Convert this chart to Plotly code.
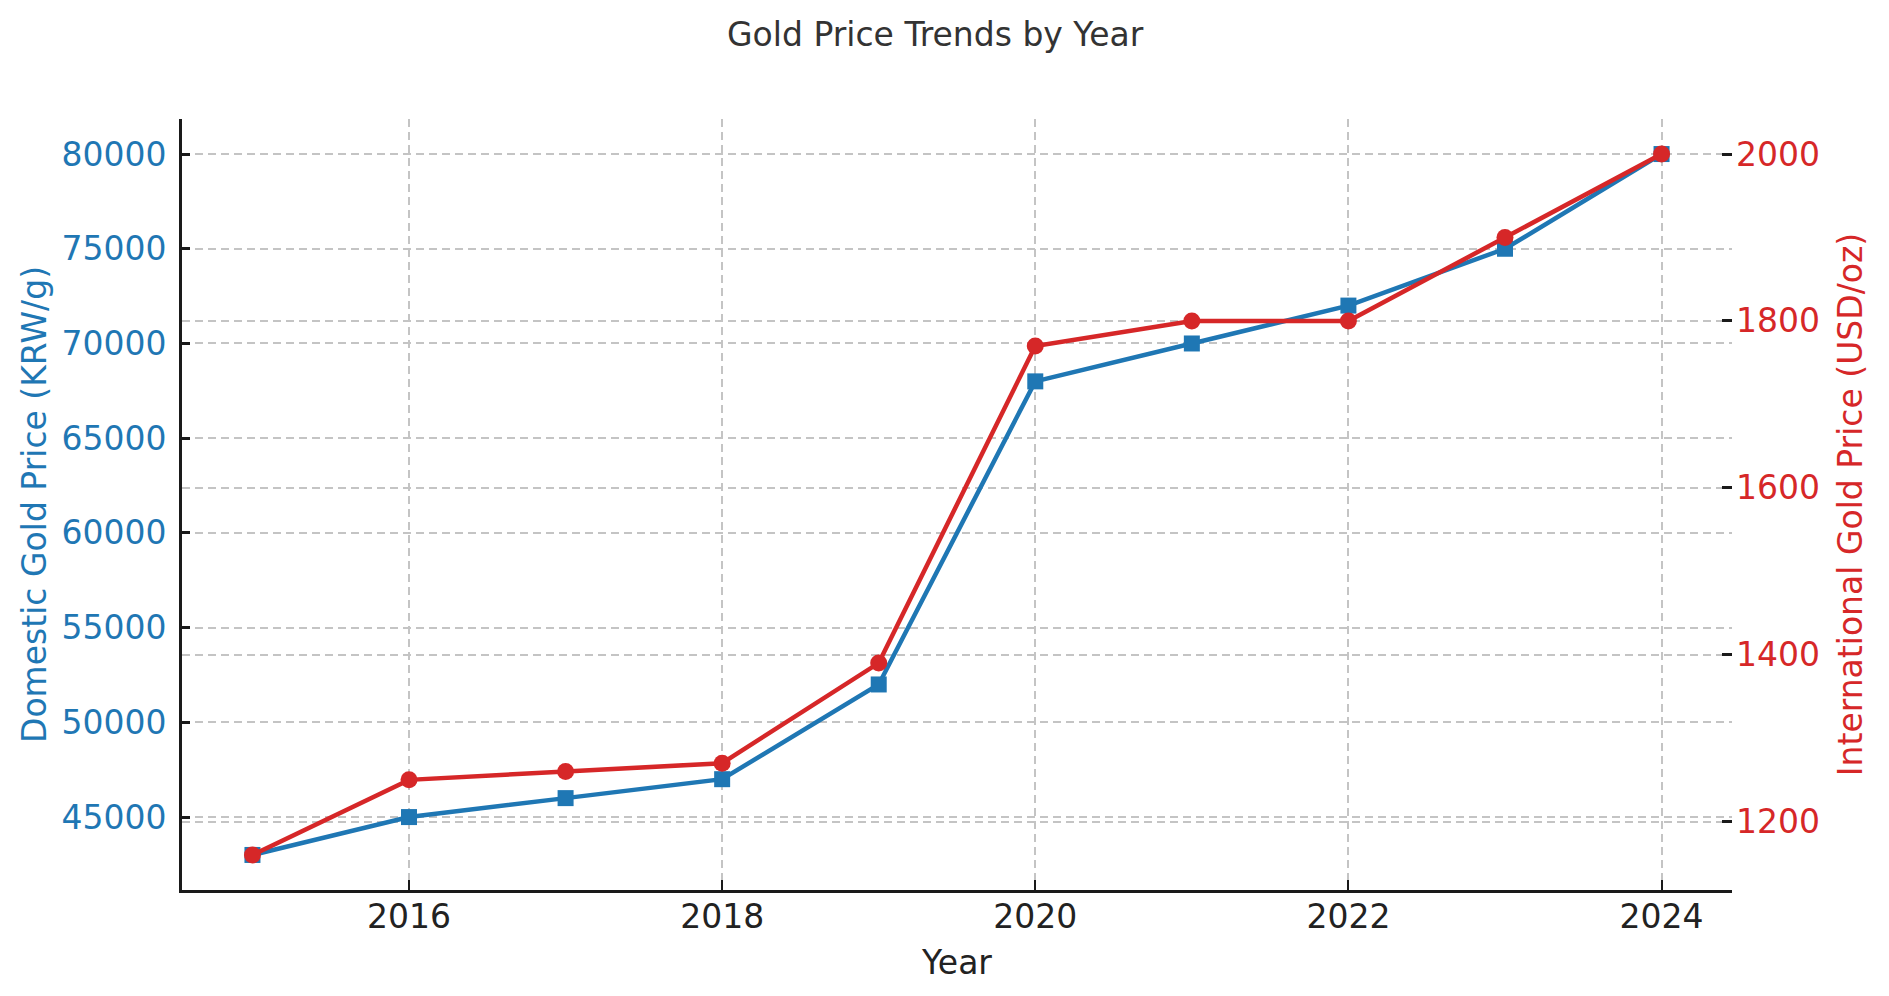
import plotly.graph_objects as go

years = [2015, 2016, 2017, 2018, 2019, 2020, 2021, 2022, 2023, 2024]
domestic_krw_g = [43000, 45000, 46000, 47000, 52000, 68000, 70000, 72000, 75000, 80000]
intl_usd_oz = [1160, 1250, 1260, 1270, 1390, 1770, 1800, 1800, 1900, 2000]

BLUE = "#1f77b4"
RED = "#d62728"
GRID = "#c4c4c4"
FONT = "DejaVu Sans"

fig = go.Figure()
fig.add_trace(go.Scatter(
    x=years, y=domestic_krw_g, mode="lines+markers", name="Domestic",
    line=dict(color=BLUE, width=4.5),
    marker=dict(symbol="square", size=16, color=BLUE),
    yaxis="y"))
fig.add_trace(go.Scatter(
    x=years, y=intl_usd_oz, mode="lines+markers", name="International",
    line=dict(color=RED, width=4.5),
    marker=dict(symbol="circle", size=17, color=RED),
    yaxis="y2"))

fig.update_layout(
    width=1873, height=980,
    paper_bgcolor="white", plot_bgcolor="white",
    margin=dict(l=174, r=149, t=111, b=98),
    showlegend=False,
    font=dict(family=FONT, size=33, color="#222222"),
    title=dict(text="Gold Price Trends by Year", x=0.495, xref="container", xanchor="center",
               y=1 - 26 / 980, yref="container", yanchor="middle",
               font=dict(family=FONT, size=33, color="#333333")),
    xaxis=dict(
        range=[2014.55, 2024.45], tickmode="array", tickvals=[2016, 2018, 2020, 2022, 2024],
        ticks="inside", ticklen=10, tickwidth=2, tickcolor="#1a1a1a",
        showline=True, linecolor="#1a1a1a", linewidth=2.7, mirror=False,
        showgrid=True, gridcolor=GRID, gridwidth=1.6, griddash="8px,5px",
        zeroline=False, tickfont=dict(color="#222222", size=33),
        ticklabelstandoff=-4,
        title=dict(text="Year", standoff=16, font=dict(color="#222222", size=33)),
    ),
    yaxis=dict(
        range=[41150, 81850], tickmode="linear", tick0=45000, dtick=5000, tickformat="d",
        ticks="inside", ticklen=8, tickwidth=2.5, tickcolor="#1a1a1a",
        showline=True, linecolor="#1a1a1a", linewidth=2.7,
        showgrid=True, gridcolor=GRID, gridwidth=1.6, griddash="8px,5px",
        zeroline=False, tickfont=dict(color=BLUE, size=33),
        ticklabelstandoff=6,
        title=dict(text="Domestic Gold Price (KRW/g)", standoff=6, font=dict(color=BLUE, size=33)),
    ),
    yaxis2=dict(
        overlaying="y", side="right",
        range=[1118, 2042], tickmode="linear", tick0=1200, dtick=200, tickformat="d",
        ticks="inside", ticklen=10, tickwidth=2.5, tickcolor="#1a1a1a",
        showline=False,
        showgrid=True, gridcolor=GRID, gridwidth=1.6, griddash="8px,5px",
        zeroline=False, tickfont=dict(color=RED, size=33),
        ticklabelstandoff=3,
        title=dict(text="International Gold Price (USD/oz)", standoff=19, font=dict(color=RED, size=33)),
    ),
)

fig.write_html("out.html")
